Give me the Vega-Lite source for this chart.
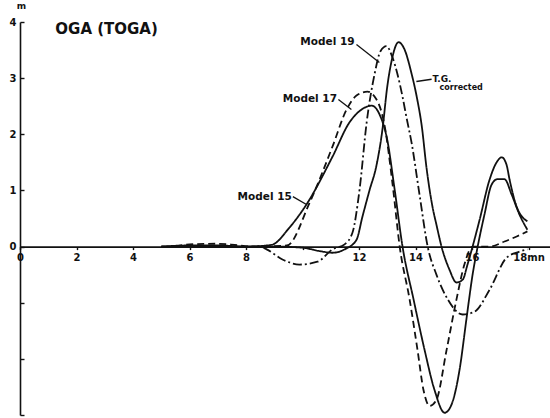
{
  "$schema": "https://vega.github.io/schema/vega-lite/v6.json",
  "width": 530,
  "height": 393,
  "autosize": {"type": "none"},
  "padding": {"left": 20, "top": 22, "right": 0, "bottom": 3},
  "background": "white",
  "config": {
    "view": {"stroke": null},
    "axis": {"grid": false, "labelFont": "DejaVu Sans", "labelFontWeight": "bold", "labelFontSize": 10, "labelColor": "#111", "domainColor": "#111", "domainWidth": 1.6, "tickColor": "#111", "tickWidth": 1.4, "titleFont": "DejaVu Sans", "titleFontWeight": "bold", "titleColor": "#111"}
  },
  "datasets": {
    "curves": [
      {"s": "Model 15", "x": 5.0, "y": 0.0}, {"s": "Model 15", "x": 6.0, "y": 0.02}, {"s": "Model 15", "x": 7.0, "y": 0.02}, {"s": "Model 15", "x": 8.0, "y": 0.0}, {"s": "Model 15", "x": 8.9, "y": 0.03},
      {"s": "Model 15", "x": 9.54, "y": 0.34}, {"s": "Model 15", "x": 10.14, "y": 0.75}, {"s": "Model 15", "x": 11.06, "y": 1.6}, {"s": "Model 15", "x": 11.66, "y": 2.21}, {"s": "Model 15", "x": 12.09, "y": 2.44},
      {"s": "Model 15", "x": 12.45, "y": 2.51}, {"s": "Model 15", "x": 12.73, "y": 2.35}, {"s": "Model 15", "x": 13.0, "y": 1.9}, {"s": "Model 15", "x": 13.26, "y": 1.02}, {"s": "Model 15", "x": 13.54, "y": 0.0},
      {"s": "Model 15", "x": 13.93, "y": -0.94}, {"s": "Model 15", "x": 14.32, "y": -1.84}, {"s": "Model 15", "x": 14.67, "y": -2.55}, {"s": "Model 15", "x": 15.03, "y": -2.96}, {"s": "Model 15", "x": 15.27, "y": -2.82},
      {"s": "Model 15", "x": 15.56, "y": -2.19}, {"s": "Model 15", "x": 15.8, "y": -1.3}, {"s": "Model 15", "x": 16.02, "y": -0.5}, {"s": "Model 15", "x": 16.2, "y": 0.0}, {"s": "Model 15", "x": 16.44, "y": 0.57},
      {"s": "Model 15", "x": 16.69, "y": 1.1}, {"s": "Model 15", "x": 16.9, "y": 1.2}, {"s": "Model 15", "x": 17.15, "y": 1.2}, {"s": "Model 15", "x": 17.4, "y": 0.93}, {"s": "Model 15", "x": 17.68, "y": 0.57}, {"s": "Model 15", "x": 17.96, "y": 0.3},

      {"s": "Model 17", "x": 5.5, "y": 0.0}, {"s": "Model 17", "x": 6.0, "y": 0.04}, {"s": "Model 17", "x": 7.0, "y": 0.05}, {"s": "Model 17", "x": 7.6, "y": 0.03}, {"s": "Model 17", "x": 8.2, "y": 0.0}, {"s": "Model 17", "x": 9.45, "y": 0.02},
      {"s": "Model 17", "x": 10.25, "y": 0.78}, {"s": "Model 17", "x": 11.06, "y": 1.78}, {"s": "Model 17", "x": 11.56, "y": 2.44}, {"s": "Model 17", "x": 11.91, "y": 2.69}, {"s": "Model 17", "x": 12.3, "y": 2.76},
      {"s": "Model 17", "x": 12.62, "y": 2.62}, {"s": "Model 17", "x": 12.9, "y": 2.17}, {"s": "Model 17", "x": 13.19, "y": 1.1}, {"s": "Model 17", "x": 13.44, "y": 0.0}, {"s": "Model 17", "x": 13.79, "y": -0.94},
      {"s": "Model 17", "x": 14.07, "y": -1.84}, {"s": "Model 17", "x": 14.28, "y": -2.55}, {"s": "Model 17", "x": 14.5, "y": -2.84}, {"s": "Model 17", "x": 14.74, "y": -2.73}, {"s": "Model 17", "x": 15.1, "y": -1.84},
      {"s": "Model 17", "x": 15.45, "y": -0.94}, {"s": "Model 17", "x": 15.73, "y": -0.32}, {"s": "Model 17", "x": 16.02, "y": 0.0}, {"s": "Model 17", "x": 16.62, "y": 0.0}, {"s": "Model 17", "x": 17.15, "y": 0.09}, {"s": "Model 17", "x": 17.58, "y": 0.18}, {"s": "Model 17", "x": 17.96, "y": 0.27},

      {"s": "Model 19", "x": 5.0, "y": 0.0}, {"s": "Model 19", "x": 8.5, "y": 0.0}, {"s": "Model 19", "x": 8.73, "y": -0.05}, {"s": "Model 19", "x": 9.29, "y": -0.23}, {"s": "Model 19", "x": 9.89, "y": -0.32},
      {"s": "Model 19", "x": 10.53, "y": -0.27}, {"s": "Model 19", "x": 11.06, "y": -0.05}, {"s": "Model 19", "x": 11.49, "y": 0.04}, {"s": "Model 19", "x": 11.77, "y": 0.25}, {"s": "Model 19", "x": 12.02, "y": 1.02},
      {"s": "Model 19", "x": 12.27, "y": 2.21}, {"s": "Model 19", "x": 12.55, "y": 3.07}, {"s": "Model 19", "x": 12.76, "y": 3.48}, {"s": "Model 19", "x": 12.97, "y": 3.57}, {"s": "Model 19", "x": 13.19, "y": 3.36},
      {"s": "Model 19", "x": 13.54, "y": 2.67}, {"s": "Model 19", "x": 13.68, "y": 2.3}, {"s": "Model 19", "x": 13.86, "y": 1.85}, {"s": "Model 19", "x": 14.14, "y": 0.93}, {"s": "Model 19", "x": 14.43, "y": 0.0},
      {"s": "Model 19", "x": 14.74, "y": -0.5}, {"s": "Model 19", "x": 15.14, "y": -0.94}, {"s": "Model 19", "x": 15.67, "y": -1.21}, {"s": "Model 19", "x": 16.09, "y": -1.16}, {"s": "Model 19", "x": 16.62, "y": -0.77},
      {"s": "Model 19", "x": 17.22, "y": -0.2}, {"s": "Model 19", "x": 17.68, "y": -0.09}, {"s": "Model 19", "x": 17.96, "y": -0.05},

      {"s": "T.G.", "x": 5.0, "y": 0.0}, {"s": "T.G.", "x": 8.0, "y": 0.0}, {"s": "T.G.", "x": 9.0, "y": 0.0}, {"s": "T.G.", "x": 10.0, "y": -0.02}, {"s": "T.G.", "x": 10.6, "y": -0.08},
      {"s": "T.G.", "x": 11.06, "y": -0.11}, {"s": "T.G.", "x": 11.49, "y": -0.05}, {"s": "T.G.", "x": 11.91, "y": 0.12}, {"s": "T.G.", "x": 12.12, "y": 0.53}, {"s": "T.G.", "x": 12.37, "y": 1.0},
      {"s": "T.G.", "x": 12.62, "y": 1.45}, {"s": "T.G.", "x": 12.83, "y": 2.09}, {"s": "T.G.", "x": 13.0, "y": 2.85}, {"s": "T.G.", "x": 13.15, "y": 3.3}, {"s": "T.G.", "x": 13.4, "y": 3.64},
      {"s": "T.G.", "x": 13.62, "y": 3.5}, {"s": "T.G.", "x": 13.85, "y": 3.1}, {"s": "T.G.", "x": 14.05, "y": 2.65}, {"s": "T.G.", "x": 14.22, "y": 2.15}, {"s": "T.G.", "x": 14.39, "y": 1.4},
      {"s": "T.G.", "x": 14.6, "y": 0.71}, {"s": "T.G.", "x": 14.74, "y": 0.39}, {"s": "T.G.", "x": 14.92, "y": 0.0}, {"s": "T.G.", "x": 15.2, "y": -0.41}, {"s": "T.G.", "x": 15.45, "y": -0.64},
      {"s": "T.G.", "x": 15.67, "y": -0.59}, {"s": "T.G.", "x": 15.84, "y": -0.32}, {"s": "T.G.", "x": 16.02, "y": 0.0}, {"s": "T.G.", "x": 16.27, "y": 0.48}, {"s": "T.G.", "x": 16.62, "y": 1.19},
      {"s": "T.G.", "x": 16.87, "y": 1.5}, {"s": "T.G.", "x": 17.05, "y": 1.59}, {"s": "T.G.", "x": 17.22, "y": 1.46}, {"s": "T.G.", "x": 17.33, "y": 1.19}, {"s": "T.G.", "x": 17.58, "y": 0.71}, {"s": "T.G.", "x": 17.96, "y": 0.45}
    ],
    "labels": [
      {"t": "OGA (TOGA)", "x": 1.25, "y": 3.87, "size": 15, "align": "left"},
      {"t": "Model 19", "x": 11.84, "y": 3.64, "size": 10.5, "align": "right"},
      {"t": "Model 17", "x": 11.22, "y": 2.62, "size": 10.5, "align": "right"},
      {"t": "Model 15", "x": 9.62, "y": 0.89, "size": 10.5, "align": "right"},
      {"t": "T.G.", "x": 14.6, "y": 2.99, "size": 9, "align": "left"},
      {"t": "corrected", "x": 14.85, "y": 2.82, "size": 8, "align": "left"}
    ],
    "leaders": [
      {"x": 11.91, "y": 3.6, "x2": 12.72, "y2": 3.28},
      {"x": 11.27, "y": 2.62, "x2": 11.73, "y2": 2.44},
      {"x": 9.66, "y": 0.89, "x2": 10.14, "y2": 0.75},
      {"x": 14.03, "y": 2.94, "x2": 14.57, "y2": 2.98}
    ]
  },
  "layer": [
    {
      "data": {"name": "curves"},
      "mark": {"type": "line", "interpolate": "monotone", "color": "#111", "clip": true},
      "encoding": {
        "x": {"field": "x", "type": "quantitative", "scale": {"domain": [0, 18.76], "nice": false, "zero": false},
          "axis": {"title": null, "orient": "bottom", "offset": -168.4, "values": [0,1,2,3,4,5,6,7,8,9,10,11,12,13,14,15,16,17,18], "tickSize": 3, "labelPadding": 3,
            "labelExpr": "datum.value == 18 ? '18mn' : (datum.value % 2 == 0 && datum.value != 10 ? format(datum.value, 'd') : '')", "labelFlush": false}},
        "y": {"field": "y", "type": "quantitative", "scale": {"domain": [-3, 4], "nice": false, "zero": false},
          "axis": {"title": "m", "titleAngle": 0, "titleX": 1, "titleY": -12, "titleFontSize": 9, "titleAlign": "center", "titleBaseline": "bottom",
            "values": [-3,-2.5,-2,-1.5,-1,-0.5,0,0.5,1,1.5,2,2.5,3,3.5,4], "tickSize": -4, "labelPadding": 8,
            "labelExpr": "datum.value >= 0 && datum.value % 1 == 0 ? format(datum.value, 'd') : ''"}},
        "detail": {"field": "s"},
        "strokeDash": {"field": "s", "type": "nominal", "legend": null,
          "scale": {"domain": ["Model 15", "Model 17", "Model 19", "T.G."], "range": [[1, 0], [7, 4], [9, 3, 2, 3], [1, 0]]}},
        "strokeWidth": {"field": "s", "type": "nominal", "legend": null,
          "scale": {"domain": ["Model 15", "Model 17", "Model 19", "T.G."], "range": [1.8, 1.8, 1.5, 2.6]}}
      }
    },
    {
      "data": {"name": "leaders"},
      "mark": {"type": "rule", "color": "#111", "strokeWidth": 1.3},
      "encoding": {
        "x": {"field": "x", "type": "quantitative"},
        "y": {"field": "y", "type": "quantitative"},
        "x2": {"field": "x2"},
        "y2": {"field": "y2"}
      }
    },
    {
      "data": {"name": "labels"},
      "transform": [{"filter": "datum.align == 'left'"}],
      "mark": {"type": "text", "font": "DejaVu Sans", "fontWeight": "bold", "color": "#111", "baseline": "middle", "align": "left"},
      "encoding": {
        "x": {"field": "x", "type": "quantitative"},
        "y": {"field": "y", "type": "quantitative"},
        "text": {"field": "t"},
        "size": {"field": "size", "type": "quantitative", "scale": null}
      }
    },
    {
      "data": {"name": "labels"},
      "transform": [{"filter": "datum.align == 'right'"}],
      "mark": {"type": "text", "font": "DejaVu Sans", "fontWeight": "bold", "color": "#111", "baseline": "middle", "align": "right"},
      "encoding": {
        "x": {"field": "x", "type": "quantitative"},
        "y": {"field": "y", "type": "quantitative"},
        "text": {"field": "t"},
        "size": {"field": "size", "type": "quantitative", "scale": null}
      }
    }
  ]
}
